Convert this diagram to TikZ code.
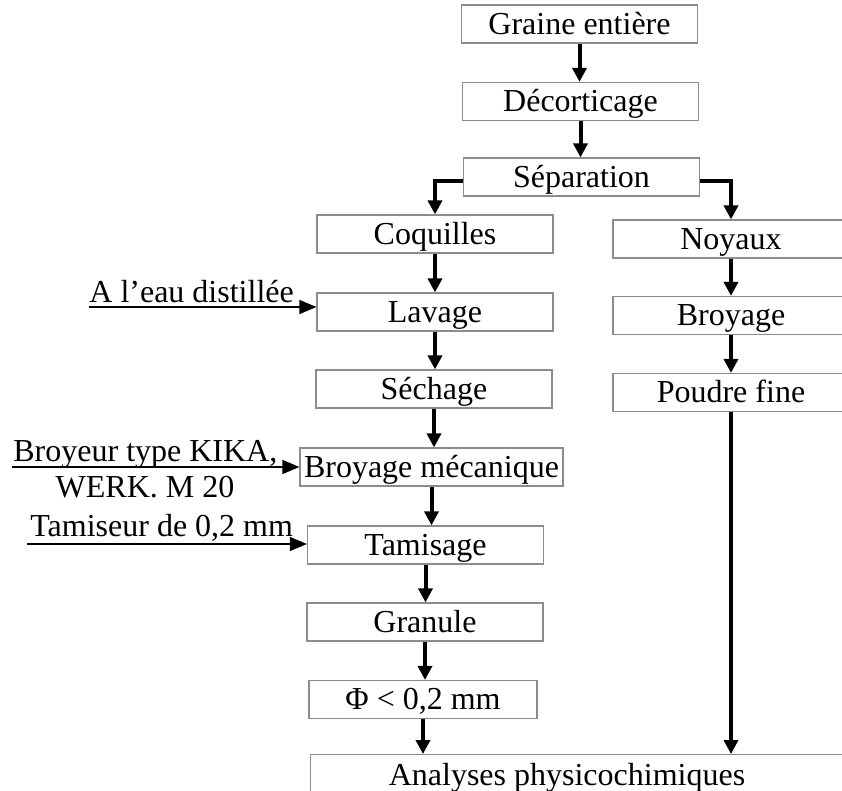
\documentclass[tikz,border=0pt]{standalone}
\usepackage{fontspec}
\setmainfont{Liberation Serif}
\usetikzlibrary{arrows.meta}
\tikzset{
  etape/.style={draw=black!45, line width=0.6pt, minimum width=118pt, minimum height=19pt,
    inner xsep=2pt, inner ysep=0pt, text height=14.6pt, text depth=4.4pt,
    font=\fontsize{16}{19}\selectfont},
  fleche/.style={line width=2pt, -{Triangle[length=7pt,width=7pt]}},
  entree/.style={line width=0.7pt, -{Triangle[length=8.5pt,width=7pt]}},
  note/.style={inner sep=0pt, font=\fontsize{16}{19}\selectfont}
}
\begin{document}
\begin{tikzpicture}[x=0.5pt,y=-0.5pt]
  \useasboundingbox (0,0) rectangle (842,791);
  % tronc commun
  \node[etape] (graine) at (579.5,24) {Graine entière};
  \node[etape] (dec) at (580.5,101.5) {Décorticage};
  \node[etape] (sep) at (581.5,177) {Séparation};
  % coquilles
  \node[etape] (coq) at (435,234) {Coquilles};
  \node[etape] (lav) at (435,312) {Lavage};
  \node[etape] (sech) at (434,389) {Séchage};
  \node[etape, minimum width=130.5pt] (bm) at (431.5,467) {Broyage mécanique};
  \node[etape] (tam) at (425.5,545) {Tamisage};
  \node[etape] (gran) at (425,622) {Granule};
  \node[etape, minimum width=114pt] (phi) at (423,699.5) {Φ < 0,2 mm};
  % noyaux
  \node[etape] (noy) at (731,239) {Noyaux};
  \node[etape] (broy) at (731,315.5) {Broyage};
  \node[etape] (poudre) at (731,392.5) {Poudre fine};
  % analyses
  \node[etape, anchor=north west, minimum width=300pt, minimum height=30pt] (ana) at (310,754) {};
  \node[note, anchor=base] (anatxt) at (567,785) {Analyses physicochimiques};

  \foreach \a/\b in {graine/dec, dec/sep, coq/lav, lav/sech, sech/bm, bm/tam, tam/gran,
                     gran/phi, phi/ana, noy/broy, broy/poudre, poudre/ana}
    \draw[fleche] (\a.south) -- (\a.south |- \b.north);
  \draw[fleche] ([yshift=-2pt]sep.west) -| (coq.north);
  \draw[fleche] ([yshift=-2pt]sep.east) -| (noy.north);

  % entrees
  \coordinate (eau) at (89,307);
  \draw[entree] (eau) -- (eau -| lav.west);
  \node[note, anchor=base west] (eautxt) at (89,303) {A l’eau distillée};
  \coordinate (kika) at (12,467);
  \draw[entree] (kika) -- (kika -| bm.west);
  \node[note, anchor=base west] (kikatxt) at (13,462) {Broyeur type KIKA,};
  \node[note, anchor=base] (werk) at (145,498) {WERK. M 20};
  \coordinate (tamis) at (27,544);
  \draw[entree] (tamis) -- (tamis -| tam.west);
  \node[note, anchor=base west] (tamtxt) at (30,537) {Tamiseur de 0,2 mm};
\end{tikzpicture}
\end{document}
